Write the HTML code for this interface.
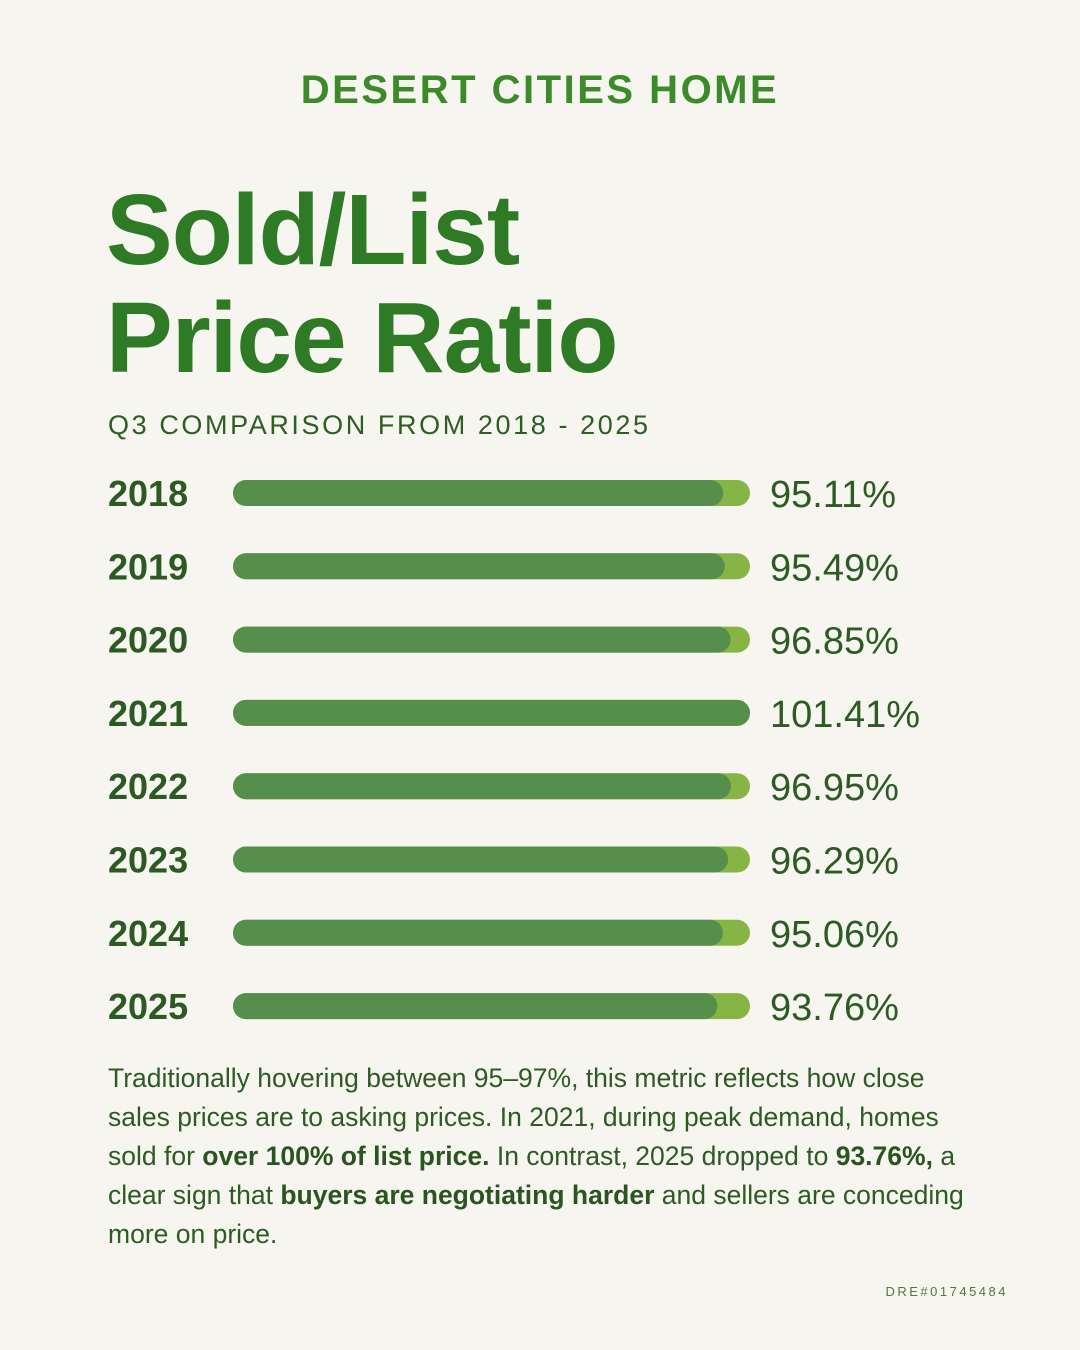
<!DOCTYPE html>
<html><head><meta charset="utf-8"><style>
body{margin:0;width:1080px;height:1350px;background:#f6f5f0;font-family:"Liberation Sans",sans-serif;position:relative;overflow:hidden}
.a{position:absolute;margin:0}
#brand{top:68px;left:0;width:1080px;text-align:center;font-size:40px;font-weight:bold;letter-spacing:2.5px;color:#3d8a2a}
#title{left:106px;top:176px;font-size:100px;font-weight:bold;line-height:108px;color:#2f7a25;letter-spacing:-1px}
#sub{left:108px;top:410px;font-size:27px;letter-spacing:2.6px;color:#2d5e22}
#para{left:108px;top:1059px;width:875px;font-size:26.5px;line-height:39px;color:#2e5a24}
#para b{color:#2a5420}
#dre{right:72px;top:1284px;font-size:13px;letter-spacing:2.5px;color:#4f7a3a}
.yr{font-size:36px;font-weight:bold;fill:#2c5a22}
.val{font-size:38px;fill:#2e5a24}
</style></head><body>
<p class="a" id="brand">DESERT CITIES HOME</p>
<p class="a" id="title">Sold/List<br>Price Ratio</p>
<p class="a" id="sub">Q3 COMPARISON FROM 2018 - 2025</p>
<svg class="a" style="left:0;top:0" width="1080" height="1350"><g id="g"></g></svg>
<p class="a" id="para">Traditionally hovering between 95–97%, this metric reflects how close sales prices are to asking prices. In 2021, during peak demand, homes sold for <b>over 100% of list price.</b> In contrast, 2025 dropped to <b>93.76%,</b> a clear sign that <b>buyers are negotiating harder</b> and sellers are conceding more on price.</p>
<p class="a" id="dre">DRE#01745484</p>
<script>
const years=["2018","2019","2020","2021","2022","2023","2024","2025"];
const values=[95.11,95.49,96.85,101.41,96.95,96.29,95.06,93.76];
const labels=["95.11%","95.49%","96.85%","101.41%","96.95%","96.29%","95.06%","93.76%"];
const g=document.getElementById('g');const NS='http://www.w3.org/2000/svg';
const x0=233,trackW=517,maxV=101.41,minV=-20;
function xs(v){return x0+trackW*(v-minV)/(maxV-minV);}
function yc(i){return 493+i*73.3;}
years.forEach((y,i)=>{
 const c=yc(i);
 const tr=document.createElementNS(NS,'rect');
 
 
 tr.setAttribute('x',x0);tr.setAttribute('y',c-13);tr.setAttribute('width',trackW);tr.setAttribute('height',26);tr.setAttribute('rx',13);tr.setAttribute('fill','#86b545');g.appendChild(tr);
 const b=document.createElementNS(NS,'rect');
 
 
 b.setAttribute('x',x0);b.setAttribute('y',c-13);b.setAttribute('width',xs(values[i])-x0);b.setAttribute('height',26);b.setAttribute('rx',13);b.setAttribute('fill','#568f4b');g.appendChild(b);
 const t=document.createElementNS(NS,'text');
 
 
 t.setAttribute('x',108);t.setAttribute('y',c+13);t.setAttribute('class','yr');t.textContent=y;g.appendChild(t);
 const v=document.createElementNS(NS,'text');
 
 
 v.setAttribute('x',770);v.setAttribute('y',c+14);v.setAttribute('class','val');v.textContent=labels[i];g.appendChild(v);
});
</script>
</body></html>
